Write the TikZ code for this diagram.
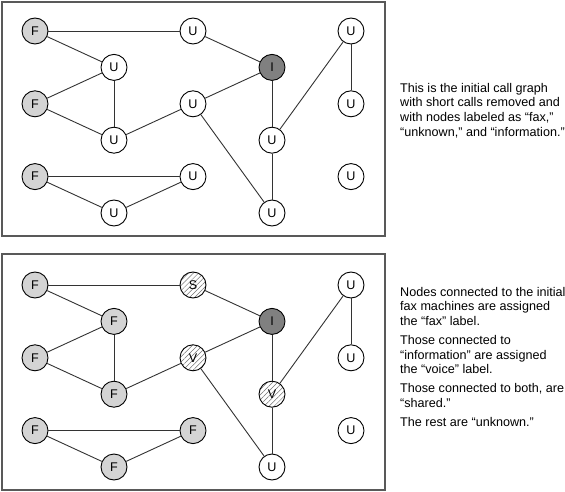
\documentclass[tikz,border=0pt]{standalone}
\usepackage{fontspec}
\setmainfont{Liberation Sans}
\usetikzlibrary{positioning,patterns.meta}
\definecolor{faxgray}{gray}{0.83}
\definecolor{infogray}{gray}{0.5}
\definecolor{boxgray}{gray}{0.35}

\begin{document}
\begin{tikzpicture}[x=1pt,y=1pt,on grid,node distance=36.4pt and 79pt,
		main node/.style={circle,draw,line width=0.9pt,minimum size=26pt,inner sep=0pt,font=\fontsize{12.6}{14}\selectfont},
		fax node/.style={main node,fill=faxgray},
		info node/.style={main node,fill=infogray},
		hatch node/.style={main node,pattern={Lines[angle=45,distance=3.6pt,line width=0.5pt]},pattern color=black!55},
		every edge/.style={draw,line width=0.9pt,black!80},
		frame/.style={draw=boxgray,line width=1.3pt},
		note/.style={anchor=north west,align=left,inner sep=0pt,font=\fontsize{12.6}{14.6}\selectfont}]

			\useasboundingbox (0,0) rectangle (565,-492);
			\draw[frame] (2,-2) rectangle (385,-236);
			\draw[frame] (2,-254) rectangle (385,-490);

			% first graph
			\node[fax node] (1) at (35,-31) {F};
			\node[main node] (3) [below right=of 1] {U};
			\node[main node] (2) [above right=of 3] {U};
			\node[info node] (4) [below right=of 2] {I};
			\node[main node] (5) [above right=of 4] {U};
			\node[fax node] (6) [below left=of 3] {F};
			\node[main node] (7) [below right=of 3] {U};
			\node[main node] (8) [below right=of 4] {U};
			\node[main node] (9) [below left=of 7] {U};
			\node[main node] (10) [below right=of 7] {U};
			\node[fax node] (11) [below left=of 9] {F};
			\node[main node] (12) [below right=of 9] {U};
			\node[main node] (13) [below right=of 10] {U};
			\node[main node] (14) [below right=of 11] {U};
			\node[main node] (15) [below right=of 12] {U};

			\path
			(1) edge (2)
				edge (3)
			(2) edge (4)
			(3) edge (6)
				edge (9)
			(6) edge (9)
			(7) edge (9)
				edge (4)
				edge (15)
			(4) edge (10)
			(10) edge (5)
				edge (15)
			(5) edge (8)
			(11) edge (12)
				edge (14)
			(14) edge (12);

			\node[note] (t1) at (400,-83) {This is the initial call graph\\
				with short calls removed and\\
				with nodes labeled as “fax,”\\
				“unknown,” and “information.”};

			% second graph
			\node[fax node] (16) at (35,-285) {F};
			\node[fax node] (18) [below right=of 16] {F};
			\node[hatch node] (17) [above right=of 18] {S};
			\node[info node] (19) [below right=of 17] {I};
			\node[main node] (20) [above right=of 19] {U};
			\node[fax node] (21) [below left=of 18] {F};
			\node[hatch node] (22) [below right=of 18] {V};
			\node[main node] (23) [below right=of 19] {U};
			\node[fax node] (24) [below left=of 22] {F};
			\node[hatch node] (25) [below right=of 22] {V};
			\node[fax node] (26) [below left=of 24] {F};
			\node[fax node] (27) [below right=of 24] {F};
			\node[main node] (28) [below right=of 25] {U};
			\node[fax node] (29) [below right=of 26] {F};
			\node[main node] (30) [below right=of 27] {U};

			\path
			(16) edge (17)
				edge (18)
			(17) edge (19)
			(18) edge (21)
				edge (24)
			(21) edge (24)
			(22) edge (24)
				edge (19)
				edge (30)
			(19) edge (25)
			(25) edge (20)
				edge (30)
			(20) edge (23)
			(26) edge (27)
				edge (29)
			(29) edge (27);

			\node[note] (t2) at (400,-287) {Nodes connected to the initial\\
				fax machines are assigned\\
				the “fax” label.\\[4.5pt]
				Those connected to\\
				“information” are assigned\\
				the “voice” label.\\[4.5pt]
				Those connected to both, are\\
				“shared.”\\[4.5pt]
				The rest are “unknown.”};
		\end{tikzpicture}
\end{document}
